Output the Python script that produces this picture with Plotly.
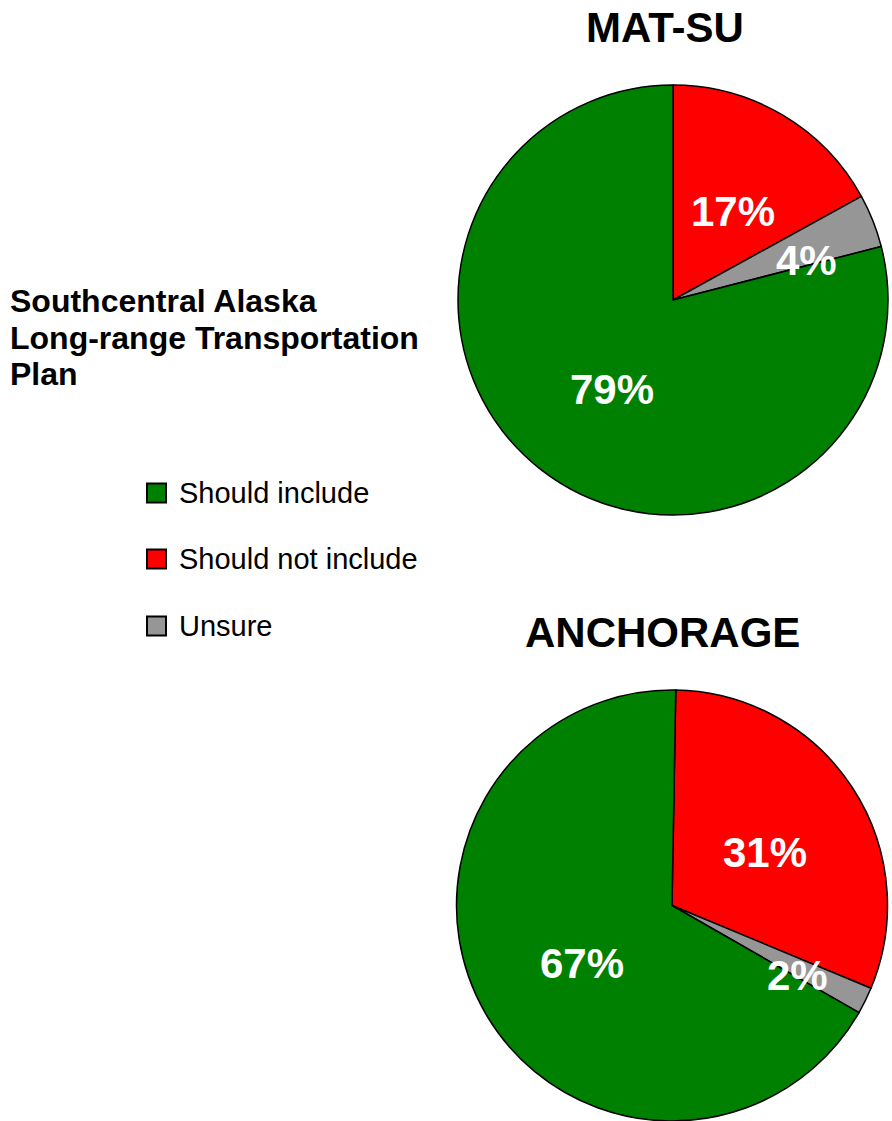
import plotly.graph_objects as go

# Survey responses by region
categories = ["Should not include", "Unsure", "Should include"]
matsu_values = [17, 4, 79]
anchorage_values = [31, 2, 67]
legend_order = ["Should include", "Should not include", "Unsure"]

colors = {"Should include": "#008000", "Should not include": "#FF0000", "Unsure": "#969696"}

W, H = 892, 1121


def px(x):
    return x / W


def py(y):
    return 1 - y / H


fig = go.Figure()

pie_common = dict(
    labels=categories,
    sort=False,
    direction="clockwise",
    textinfo="none",
    hoverinfo="label+percent",
    showlegend=False,
    marker=dict(colors=[colors[c] for c in categories], line=dict(color="black", width=1.5)),
)

fig.add_trace(go.Pie(
    values=matsu_values, rotation=0,
    domain=dict(x=[px(458), px(888)], y=[py(515), py(85)]),
    **pie_common,
))
fig.add_trace(go.Pie(
    values=anchorage_values, rotation=1,
    domain=dict(x=[px(456), px(888)], y=[0, py(690)]),
    **pie_common,
))

annotations = []

# Slice percentage labels
label_pos = {
    "matsu": [(733, 212), (806, 260), (612, 389)],
    "anchorage": [(765, 852), (797, 975), (582, 963)],
}
for key, vals in (("matsu", matsu_values), ("anchorage", anchorage_values)):
    for (x, y), v in zip(label_pos[key], vals):
        annotations.append(dict(
            x=px(x), y=py(y), xref="paper", yref="paper", showarrow=False,
            text=f"<b>{v}%</b>", xanchor="center", yanchor="middle",
            font=dict(family="Liberation Sans, Arial", size=42, color="white"),
        ))

# Pie titles
for text, x, y in (("MAT-SU", 665, 27), ("ANCHORAGE", 662, 632)):
    annotations.append(dict(
        x=px(x), y=py(y), xref="paper", yref="paper", showarrow=False,
        text=f"<b>{text}</b>", xanchor="center", yanchor="middle",
        font=dict(family="Liberation Sans, Arial", size=42, color="black"),
    ))

# Chart title, one annotation per line
title_lines = ["Southcentral Alaska", "Long-range Transportation", "Plan"]
for i, line in enumerate(title_lines):
    annotations.append(dict(
        x=px(8), y=py(301 + 36.7 * i), xref="paper", yref="paper", showarrow=False,
        text=f"<b>{line}</b>", xanchor="left", yanchor="middle",
        font=dict(family="Liberation Sans, Arial", size=32, color="black"),
    ))

# Legend drawn as boxes with text
shapes = []
legend_y = [493, 559, 626]
for name, y in zip(legend_order, legend_y):
    shapes.append(dict(
        type="rect", xref="paper", yref="paper",
        x0=px(147), x1=px(166), y0=py(y + 9.5), y1=py(y - 9.5),
        fillcolor=colors[name], line=dict(color="black", width=2),
    ))
    annotations.append(dict(
        x=px(177), y=py(y), xref="paper", yref="paper", showarrow=False,
        text=name, xanchor="left", yanchor="middle",
        font=dict(family="Liberation Sans, Arial", size=29, color="black"),
    ))

fig.update_layout(
    width=W, height=H,
    margin=dict(l=0, r=0, t=0, b=0),
    paper_bgcolor="white", plot_bgcolor="white",
    annotations=annotations, shapes=shapes,
)

fig.write_html("out.html", config={"displayModeBar": False})
